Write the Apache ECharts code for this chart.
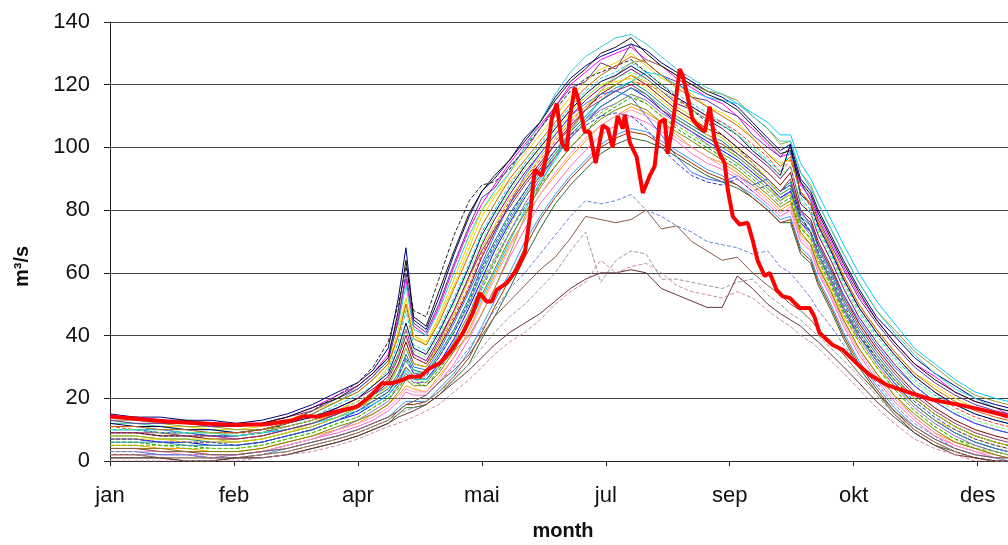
<!DOCTYPE html>
<html>
<head>
<meta charset="utf-8">
<script src="https://cdn.jsdelivr.net/npm/echarts@6/dist/echarts.min.js"></script>
<style>
  html, body { margin: 0; padding: 0; background: #fff; }
  #chart { width: 1008px; height: 545px; }
</style>
</head>
<body>
<div id="chart"></div>
<script>
// Daily discharge (m3/s) through the year: ensemble of simulated years plus the observed year (red).
// x is day of year; month labels sit every 49 days.
const tickDays = [0, 49, 98, 147, 196, 245, 294, 343];
const tickLabels = ['jan', 'feb', 'apr', 'mai', 'jul', 'sep', 'okt', 'des'];
const yTicks = [0, 20, 40, 60, 80, 100, 120, 140];

// Sample days shared by the ensemble members
const ensDays = [0, 10, 20, 30, 40, 50, 60, 70, 80, 90, 98, 104, 110, 114, 117, 120, 125, 130, 136, 142,
  147, 152, 158, 164, 170, 176, 182, 188, 194, 200, 206, 212, 218, 224, 230, 236, 242, 248, 254, 260,
  265, 269, 273, 277, 280, 285, 290, 296, 303, 310, 318, 326, 334, 342, 350, 355];

const m01 = [15,14,14,13,13,12,13,15,18,22,25,29,36,52,68,45,42,52,66,78,86,90,96,103,108,116,122,126,129,131,133,131,127,124,121,118,116,113,108,103,99,101,90,86,80,72,64,55,46,40,33,28,24,20,18,17];
const m02 = [14,13,13,12,12,11,12,14,17,21,24,28,34,46,58,43,40,49,62,74,82,88,95,101,107,113,120,124,128,130,132,128,126,122,119,116,114,110,106,101,97,98,88,84,78,70,62,53,45,38,31,27,22,19,17,15];
const m03 = [12,12,11,11,10,10,11,13,16,19,22,26,31,42,52,40,37,45,56,68,78,84,92,98,104,110,116,121,125,127,130,126,122,120,117,113,111,108,103,98,95,96,86,82,76,68,59,50,42,35,28,24,20,17,15,14];
const m04 = [11,11,10,10,9,9,10,12,14,18,21,24,29,38,48,37,35,42,52,63,73,80,88,95,101,107,113,118,122,124,127,124,120,117,114,111,108,104,100,96,92,99,84,80,74,66,57,48,40,33,26,21,18,15,13,12];
const m05 = [10,10,9,9,8,8,9,11,13,17,20,23,27,34,42,34,32,39,48,59,69,77,85,92,98,104,110,115,119,122,125,122,118,114,112,109,106,102,98,94,90,94,82,79,72,64,55,46,38,31,24,19,15,12,10,9];
const m06 = [9,9,8,8,7,7,8,10,12,15,18,21,25,31,38,31,30,36,45,55,65,73,82,89,95,101,107,112,117,120,123,120,116,112,109,106,104,100,96,92,88,92,80,77,70,62,53,44,36,29,22,17,13,10,8,7];
const m07 = [8,8,7,7,6,6,7,9,11,14,17,20,23,28,34,29,28,34,42,52,62,70,79,86,93,99,105,110,115,118,121,118,114,110,107,104,102,98,94,90,86,89,78,75,68,60,51,42,34,27,20,15,11,8,6,5];
const m08 = [7,7,6,6,5,5,6,8,10,13,15,18,21,25,30,27,26,31,39,49,58,67,76,84,91,97,103,108,113,116,119,116,112,108,105,102,99,96,92,88,84,86,76,73,66,58,49,40,32,25,18,13,9,6,4,3];
const m09 = [6,6,5,5,4,4,5,7,9,12,14,17,20,23,27,25,24,29,36,46,55,63,73,81,88,94,100,105,110,113,116,114,110,106,103,100,97,94,90,86,82,84,74,71,64,56,47,38,30,23,16,11,7,5,3,2];
const m10 = [5,5,4,4,3,3,4,6,8,10,12,15,18,21,24,23,22,27,33,42,51,59,69,77,85,91,97,102,107,110,113,111,108,104,100,97,95,92,88,84,80,82,72,69,62,54,45,36,28,21,14,9,6,4,2,1];
const m11 = [4,4,3,3,2,2,3,5,7,9,11,13,16,19,22,21,21,25,31,39,47,55,65,74,82,88,94,99,104,107,110,108,105,102,98,95,93,90,86,82,78,80,70,67,60,52,43,34,26,19,13,8,5,3,1,1];
const m12 = [3,3,2,2,1,1,2,4,6,8,10,12,14,17,19,19,19,23,28,35,43,51,60,70,78,85,91,96,101,104,106,105,102,99,96,93,91,88,85,81,77,78,68,65,58,50,41,32,24,17,11,7,4,2,1,0];
const m13 = [1,1,1,0,0,1,1,2,4,6,8,10,12,15,17,17,18,21,26,31,39,46,55,65,74,82,88,93,98,101,103,102,100,97,94,91,89,87,84,80,76,76,66,63,56,48,39,30,22,15,9,5,3,1,0,0];
const m14 = [9,9,8,8,8,8,9,12,16,21,25,30,38,50,62,48,46,58,72,83,88,89,93,100,106,112,118,122,124,126,128,124,120,116,112,108,104,100,95,90,86,88,78,73,66,57,48,40,33,26,20,15,11,8,6,5];
const m15 = [13,13,12,11,11,10,10,11,13,15,17,19,22,26,30,27,26,30,35,40,47,55,66,78,88,97,105,112,118,123,127,128,126,123,120,118,117,115,110,106,101,102,92,88,82,74,66,57,48,42,35,30,25,21,19,18];
const m16 = [10,10,9,9,8,8,9,10,12,15,18,21,24,30,36,30,29,35,44,54,63,72,82,91,98,104,110,114,117,118,116,110,104,97,92,90,89,91,88,90,86,88,80,75,69,61,53,45,37,30,24,19,15,12,10,9];
const m17 = [12,12,11,10,10,9,10,12,15,19,23,27,33,44,56,42,40,48,60,72,80,86,92,100,108,117,124,129,132,135,136,133,129,125,122,119,117,114,110,106,102,102,92,87,82,74,66,57,48,41,34,28,23,20,17,16];
const m18 = [7,7,7,6,6,6,7,9,12,16,20,24,30,40,50,40,38,46,58,70,80,85,89,94,100,106,112,116,120,121,122,119,115,111,108,104,101,97,93,88,83,85,75,70,63,55,46,38,30,24,18,13,10,7,5,4];
const m19 = [11,10,10,9,9,9,9,11,13,16,19,22,26,33,40,33,31,37,46,56,66,74,83,90,96,102,108,113,116,119,121,120,118,115,113,110,108,105,101,97,92,96,86,81,75,67,58,49,41,34,27,22,17,14,12,11];
const m20 = [2,2,2,2,1,2,3,5,7,10,13,16,19,24,28,25,25,30,38,47,56,64,73,82,90,97,103,108,112,114,117,115,111,108,105,101,98,95,91,87,83,86,76,72,65,57,48,39,31,24,17,12,8,5,3,2];
const m21 = [13,12,12,12,11,11,12,14,16,20,23,27,32,45,60,44,41,50,63,75,84,87,94,99,106,113,119,121,127,125,133,127,123,121,116,115,112,110,104,100,97,100,89,83,77,69,61,52,44,37,30,25,21,18,16,15];
const m22 = [10,10,10,9,9,8,9,10,12,14,16,18,21,25,29,26,26,30,36,44,52,60,70,80,89,96,104,109,115,119,121,124,123,120,118,116,115,114,111,108,104,104,95,90,85,77,69,60,51,44,36,31,26,22,20,19];
const m23 = [8,8,7,7,7,6,7,9,11,14,17,20,24,30,36,31,30,37,47,58,68,75,84,90,97,103,109,113,118,120,123,121,117,113,110,106,103,99,95,90,85,87,77,73,66,58,49,41,33,26,20,15,11,8,6,5];
const m24 = [5,5,5,4,4,4,5,7,9,12,14,17,20,24,28,26,25,30,38,47,57,65,75,84,91,98,104,108,111,114,117,114,110,107,104,101,98,95,91,87,83,85,75,71,64,56,47,38,30,23,16,11,7,4,3,2];
const m25 = [12,11,11,10,10,9,10,12,14,17,20,24,28,36,44,36,34,41,51,62,72,79,87,94,100,106,112,117,121,123,126,123,119,116,113,110,107,104,99,95,91,101,85,82,75,67,58,49,41,34,27,22,18,15,13,12];
const m26 = [9,9,9,8,8,7,8,10,12,15,18,22,26,33,40,33,31,38,48,59,67,74,81,88,94,101,106,112,115,118,120,117,112,109,106,103,101,98,94,90,86,90,79,76,69,61,52,43,35,28,21,16,12,9,7,6];
const m27 = [6,6,6,5,5,5,6,8,10,13,16,19,22,27,32,28,28,33,41,50,60,68,77,85,92,98,104,109,113,116,119,117,113,109,106,103,100,97,93,89,85,87,77,73,66,58,49,40,32,25,18,13,9,6,4,3];
const m28 = [11,11,10,10,9,9,10,12,15,19,22,26,31,40,50,39,37,44,55,66,75,82,90,96,102,108,114,119,123,126,129,127,123,119,116,113,110,107,103,98,94,97,86,82,76,68,59,50,42,35,28,23,19,16,14,13];
const m29 = [7,7,6,6,6,5,6,8,10,13,16,19,22,27,33,28,27,33,41,51,61,69,78,86,93,99,104,107,110,111,110,106,100,95,91,89,88,90,86,88,84,86,78,73,67,59,50,41,33,26,19,14,10,7,5,4];
const m30 = [3,3,3,2,2,2,3,5,7,10,12,14,17,20,23,22,22,26,33,41,50,58,68,77,85,92,98,103,107,110,112,110,107,103,100,97,94,91,87,83,79,81,71,68,61,53,44,35,27,20,14,9,5,3,2,1];
const m31 = [14,14,13,13,12,12,12,14,17,20,24,28,33,48,64,46,43,54,67,79,86,91,96,102,108,115,121,125,130,132,135,130,126,123,120,117,115,112,107,102,98,99,89,85,79,71,63,54,45,38,31,26,22,19,17,16];
const m32 = [4,4,4,3,3,3,4,6,8,11,13,15,18,22,26,24,24,28,35,44,53,61,71,79,87,94,100,105,109,112,114,112,108,105,102,99,96,93,89,85,81,83,73,69,62,54,45,36,28,21,15,10,6,4,2,1];
const m33 = [2,2,1,1,1,1,2,3,5,7,9,11,13,16,18,18,19,22,27,33,41,49,58,68,77,84,90,95,100,103,105,104,101,98,95,92,90,88,84,80,76,77,67,64,57,49,40,31,23,16,10,6,3,1,0,0];
const m34 = [10,10,9,9,9,8,9,11,13,16,19,22,26,34,42,35,33,40,50,61,70,78,86,93,99,105,111,116,120,122,124,122,118,115,112,109,107,104,100,95,91,94,83,79,73,65,56,47,39,32,25,20,16,13,11,10];

// Members with a weak summer peak
const low1 = [3,3,2,2,2,2,3,4,6,8,10,12,14,16,18,19,21,25,30,36,42,48,55,60,66,72,78,83,82,83,85,80,78,75,73,70,69,68,66,67,62,60,56,52,48,43,37,31,25,18,12,8,4,2,1,0];
const low2 = [4,4,3,3,2,2,3,4,6,8,10,12,14,16,18,19,21,25,29,34,40,46,51,56,61,65,71,78,77,76,77,80,74,75,70,67,64,65,60,56,53,50,48,45,42,38,34,28,22,16,11,7,4,2,1,1];
const low3 = [2,2,1,1,1,1,2,3,5,7,9,11,13,15,16,17,19,22,26,31,36,41,46,50,55,60,67,73,57,64,67,66,58,58,57,56,55,57,58,53,50,47,45,42,40,36,32,27,21,15,10,6,3,1,0,0];
const low4 = [1,1,1,0,0,1,1,2,4,6,8,10,12,14,15,16,18,21,25,29,33,37,41,44,47,51,55,58,60,60,61,60,55,53,51,49,49,59,55,50,47,45,43,40,38,34,30,25,19,14,9,5,2,1,0,0];
const low5 = [0,0,0,0,0,0,1,2,3,5,7,9,11,12,13,14,16,18,22,26,30,34,38,41,45,50,54,57,64,60,62,63,60,56,54,53,52,54,52,48,45,43,40,38,36,32,28,23,17,12,7,4,2,0,0,0];

// Observed year
const obsDays = [0,22.5,48.6,62,72.3,76.3,83,89.7,97.6,102.7,107.5,111.4,115.8,118.5,122.5,126.4,130.4,135.1,139.5,143.4,
  146.2,148.9,150.9,152.9,156.9,160.8,164,166,167.9,170.7,172.7,174.6,176.6,178.6,180.6,181.7,183.7,184.9,187.7,189.6,
  192,194.8,196.8,198.7,200.7,202.7,203.5,205.5,208.2,210.6,213.4,215.3,217.3,219.3,220.5,222.4,225.2,226.4,228.4,230.3,
  232.3,235.1,237.1,239,241,243,244.2,246.2,248.9,252.1,254,256,258.8,260.8,263.5,265.9,268.7,272.6,276.6,278.5,
  280.5,285.7,289.6,295.1,300.3,307,314.9,325.2,335.8,344.9,352.8,355];
const obsFlow = [14.2,12.6,11.5,11.7,13,14.2,14.3,15.8,17.3,20.5,24.8,24.8,25.9,26.9,26.9,29.6,31.2,35.5,40.8,47.2,
  53.6,50.9,50.9,54.6,56.8,61,66.4,78,93,91,98,109,114,101.5,99,109,119,116,105,105,
  95,107,106,100,110,106,110.5,101.5,97,85.5,91,94,108,109,98,107,125,123,116,109,
  107,105,113,102.5,98,95,86.6,78,75.4,76,70.6,64,59,60,54.6,52.5,52,48.8,48.8,46,
  40.8,37,35.5,31.2,27.5,24.3,22.1,19.5,17.9,16.3,14.7,14.2];

const members = [m01, m02, m03, m04, m05, m06, m07, m08, m09, m10, m11, m12, m13, m14, m15, m16, m17,
  m18, m19, m20, m21, m22, m23, m24, m25, m26, m27, m28, m29, m30, m31, m32, m33, m34];
const memberColors = ['#000080', '#FF00FF', '#E6D800', '#00D0D0', '#800080', '#800000', '#008080', '#0000FF',
  '#00A000', '#FF9900', '#FF66CC', '#3399FF', '#336633', '#222222', '#999933', '#3366FF', '#33CCCC', '#FFCC00',
  '#FF3333', '#9966CC', '#663399', '#00CCFF', '#CCCC00', '#66CC00', '#000066', '#993366', '#339999', '#CC6600',
  '#3333CC', '#FF99CC', '#111111', '#808000', '#993300', '#66FF66'];
const lows = [low1, low2, low3, low4, low5];
const lowColors = ['#6688CC', '#8B5A4A', '#999999', '#663333', '#CC88AA'];

const pairs = (days, vals) => days.map((d, i) => [d, vals[i]]);

const series = [];
members.forEach((vals, k) => {
  series.push({
    type: 'line', data: pairs(ensDays, vals), symbol: 'none', silent: true,
    lineStyle: { width: 1, color: memberColors[k], type: k % 5 === 3 ? 'dashed' : 'solid' }
  });
});
lows.forEach((vals, k) => {
  series.push({
    type: 'line', data: pairs(ensDays, vals), symbol: 'none', silent: true,
    lineStyle: { width: 1, color: lowColors[k], type: k % 2 === 0 ? 'dashed' : 'solid' }
  });
});
series.push({
  type: 'line', data: pairs(obsDays, obsFlow), symbol: 'none', silent: true, z: 5,
  lineStyle: { width: 4, color: '#FF0000' }
});

const chart = echarts.init(document.getElementById('chart'), null, { renderer: 'canvas' });
chart.setOption({
  animation: false,
  backgroundColor: '#ffffff',
  grid: { left: 110, right: 0, top: 22, bottom: 84, outerBoundsMode: 'none' },
  xAxis: {
    type: 'value', min: 0, max: 355,
    name: 'month', nameLocation: 'middle', nameGap: 60,
    nameTextStyle: { fontFamily: 'Liberation Sans, Arial', fontSize: 20, fontWeight: 'bold', color: '#111', padding: [0, 0, 0, 8] },
    axisLine: { lineStyle: { color: '#222', width: 1 } },
    axisTick: { show: true, length: 5, customValues: tickDays, lineStyle: { color: '#222' } },
    axisLabel: {
      customValues: tickDays, margin: 24,
      fontFamily: 'Liberation Sans, Arial', fontSize: 22, color: '#111',
      formatter: v => tickLabels[tickDays.indexOf(v)] || ''
    },
    splitLine: { show: false }
  },
  yAxis: {
    type: 'value', min: 0, max: 140, interval: 20,
    name: 'm³/s', nameLocation: 'middle', nameGap: 78, nameRotate: 90,
    nameTextStyle: { fontFamily: 'Liberation Sans, Arial', fontSize: 20, fontWeight: 'bold', color: '#111', padding: [0, 50, 0, 0] },
    axisLine: { show: true, lineStyle: { color: '#222', width: 1 } },
    axisTick: { show: true, length: 6, lineStyle: { color: '#222' } },
    axisLabel: {
      margin: 20, fontFamily: 'Liberation Sans, Arial', fontSize: 22, color: '#111',
      formatter: v => (yTicks.indexOf(v) >= 0 ? String(v) : '')
    },
    splitLine: { show: true, lineStyle: { color: '#444', width: 1 } }
  },
  series: series
});
</script>
</body>
</html>
